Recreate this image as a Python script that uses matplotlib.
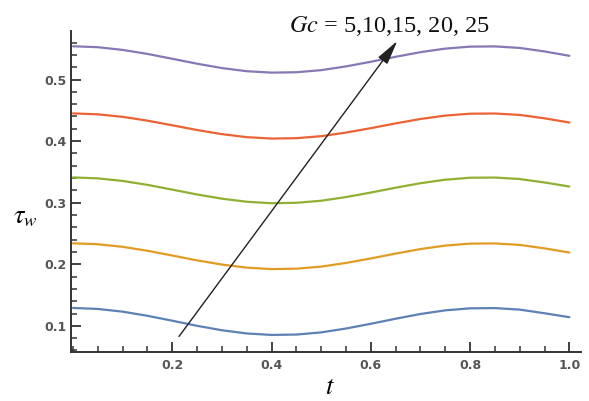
import matplotlib
matplotlib.use("Agg")
import matplotlib.pyplot as plt
from matplotlib.ticker import MultipleLocator

plt.rcParams["mathtext.fontset"] = "stix"

t = [0.0, 0.05, 0.1, 0.15, 0.2, 0.25, 0.3, 0.35, 0.4, 0.45, 0.5,
     0.55, 0.6, 0.65, 0.7, 0.75, 0.8, 0.85, 0.9, 0.95, 1.0]

gc5 = [0.1290, 0.1274, 0.1230, 0.1163, 0.1083, 0.1000, 0.0928, 0.0876, 0.0852, 0.0858, 0.0893,
       0.0956, 0.1033, 0.1115, 0.1192, 0.1251, 0.1284, 0.1288, 0.1263, 0.1204, 0.1140]
gc10 = [0.2340, 0.2325, 0.2283, 0.2219, 0.2142, 0.2063, 0.1995, 0.1945, 0.1921, 0.1928, 0.1961,
        0.2021, 0.2094, 0.2173, 0.2246, 0.2303, 0.2335, 0.2338, 0.2314, 0.2258, 0.2190]
gc15 = [0.3410, 0.3395, 0.3353, 0.3289, 0.3212, 0.3133, 0.3065, 0.3015, 0.2991, 0.2998, 0.3031,
        0.3091, 0.3164, 0.3243, 0.3316, 0.3373, 0.3405, 0.3408, 0.3384, 0.3328, 0.3262]
gc20 = [0.4450, 0.4435, 0.4394, 0.4332, 0.4257, 0.4180, 0.4113, 0.4064, 0.4041, 0.4047, 0.4080,
        0.4138, 0.4210, 0.4287, 0.4359, 0.4414, 0.4445, 0.4448, 0.4425, 0.4370, 0.4302]
gc25 = [0.5540, 0.5525, 0.5481, 0.5416, 0.5337, 0.5257, 0.5186, 0.5135, 0.5112, 0.5118, 0.5152,
        0.5213, 0.5288, 0.5369, 0.5444, 0.5502, 0.5534, 0.5538, 0.5513, 0.5456, 0.5385]

series = [gc5, gc10, gc15, gc20, gc25]
colors = ["#5E81B5", "#E19C24", "#8FB032", "#EB6235", "#8778B3"]

xticks = [0.2, 0.4, 0.6, 0.8, 1.0]
yticks = [0.1, 0.2, 0.3, 0.4, 0.5]
annotation = "$\\mathit{Gc}$ = 5,10,15, 20, 25"

fig = plt.figure(figsize=(5.89, 4.01), dpi=100)
ax = fig.add_axes([0.12, 0.123, 0.866, 0.8])

for ys, c in zip(series, colors):
    ax.plot(t, ys, color=c, lw=1.6, solid_capstyle="round")

ax.set_xlim(-0.0046, 1.023)
ax.set_ylim(0.058, 0.579)

for s in ["top", "right"]:
    ax.spines[s].set_visible(False)
for s in ["left", "bottom"]:
    ax.spines[s].set_color("#333333")
    ax.spines[s].set_linewidth(1.4)

ax.set_xticks(xticks)
ax.set_yticks(yticks)
ax.set_xticklabels([f"{v:.1f}" for v in xticks])
ax.set_yticklabels([f"{v:.1f}" for v in yticks])
ax.xaxis.set_minor_locator(MultipleLocator(0.05))
ax.yaxis.set_minor_locator(MultipleLocator(0.02))
ax.tick_params(which="major", direction="in", length=7, width=1.3, color="#333333",
               labelsize=9, labelcolor="#555555")
ax.tick_params(axis="y", which="major", pad=3)
ax.tick_params(axis="x", which="major", pad=5)
ax.tick_params(which="minor", direction="in", length=4, width=1.1, color="#333333")
for lab in ax.get_xticklabels() + ax.get_yticklabels():
    lab.set_fontweight("bold")

ax.annotate("", xy=(0.6535, 0.5626), xytext=(0.2136, 0.0827),
            arrowprops=dict(arrowstyle="-|>,head_length=1.5,head_width=0.35",
                            color="#222222", lw=1.0, shrinkA=0, shrinkB=0))

fig.text(0.491, 0.92, annotation, fontsize=17.5, family="Liberation Serif",
         ha="left", va="baseline", color="#111111")

fig.text(0.022, 0.46, "$\\tau_w$", fontsize=19, ha="left", va="center")
fig.text(0.56, 0.018, "$t$", fontsize=19, ha="center", va="baseline")

fig.savefig("out.png", dpi=100)
